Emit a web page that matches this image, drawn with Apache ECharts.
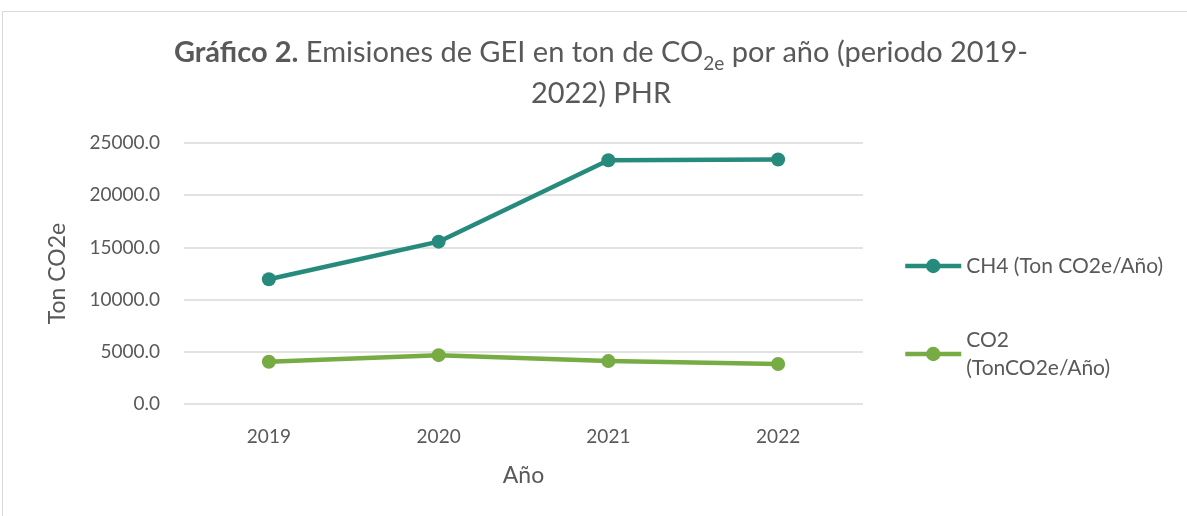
<!DOCTYPE html>
<html><head><meta charset="utf-8">
<script src="https://cdn.jsdelivr.net/npm/echarts@6/dist/echarts.min.js"></script>
<style>html,body{margin:0;padding:0;background:#fff}#c{width:1187px;height:516px}</style>
</head><body><div id="c"></div>
<script>
const categories = ['2019', '2020', '2021', '2022'];
const ch4Values = [11950, 15550, 23350, 23420];
const co2Values = [4040, 4680, 4110, 3830];
const seriesNames = ['CH4 (Ton CO2e/Año)', 'CO2\n(TonCO2e/Año)'];
const yTicks = [0, 5000, 10000, 15000, 20000, 25000];

const FONT = 'Lato, "Open Sans", sans-serif';
const GREY = '#595959';
const chart = echarts.init(document.getElementById('c'));
chart.setOption({
  backgroundColor: '#fff',
  animation: false,
  graphic: [{
    type: 'rect', silent: true,
    shape: { x: 2.5, y: 11.5, width: 1200, height: 520 },
    style: { fill: 'none', stroke: '#d9d9d9', lineWidth: 1 }
  }],
  title: {
    text: '{b|Gráfico 2.} Emisiones de GEI en ton de CO{sub|2e} por año (periodo 2019-\n2022) PHR',
    left: 601, top: 32, textAlign: 'center', padding: 0,
    textStyle: {
      fontFamily: FONT, fontSize: 29, fontWeight: 'normal', color: GREY, lineHeight: 41,
      rich: {
        b: { fontFamily: FONT, fontSize: 29, fontWeight: 'bold', color: GREY, lineHeight: 41 },
        sub: { fontFamily: FONT, fontSize: 19, color: GREY, verticalAlign: 'bottom', lineHeight: 26 }
      }
    }
  },
  grid: { left: 184, right: 324, top: 143, bottom: 112, containLabel: false },
  legend: [{
    orient: 'vertical', left: 903, top: 252, padding: 0,
    itemWidth: 56, itemHeight: 18,
    lineStyle: { width: 4.5 },
    data: [seriesNames[0]],
    textStyle: { fontFamily: FONT, fontSize: 21, color: GREY, lineHeight: 28 }
  }, {
    orient: 'vertical', left: 903, top: 312, padding: 0,
    itemWidth: 56, itemHeight: 18,
    lineStyle: { width: 4.5 },
    data: [seriesNames[1]],
    textStyle: { fontFamily: FONT, fontSize: 21, color: GREY, lineHeight: 28, padding: [28, 0, 0, 0] }
  }],
  xAxis: {
    type: 'category', data: categories, boundaryGap: true,
    name: 'Año', nameLocation: 'middle', nameGap: 60,
    nameTextStyle: { fontFamily: FONT, fontSize: 23, color: GREY },
    axisLine: { show: false }, axisTick: { show: false },
    axisLabel: { fontFamily: FONT, fontSize: 19, color: GREY, margin: 23 }
  },
  yAxis: {
    type: 'value', min: yTicks[0], max: yTicks[yTicks.length - 1], interval: 5000,
    name: 'Ton CO2e', nameLocation: 'middle', nameGap: 115,
    nameTextStyle: { fontFamily: FONT, fontSize: 23, color: GREY },
    axisLine: { show: false }, axisTick: { show: false },
    axisLabel: { fontFamily: FONT, fontSize: 19, color: GREY, margin: 24,
      formatter: v => v.toFixed(1) },
    splitLine: { lineStyle: { color: '#d9d9d9', width: 1.5 } }
  },
  series: [{
    name: seriesNames[0], type: 'line', data: ch4Values,
    symbol: 'circle', symbolSize: 14,
    lineStyle: { color: '#268A7D', width: 4.5 },
    itemStyle: { color: '#268A7D' }
  }, {
    name: seriesNames[1], type: 'line', data: co2Values,
    symbol: 'circle', symbolSize: 14,
    lineStyle: { color: '#77AB43', width: 4.5 },
    itemStyle: { color: '#77AB43' }
  }]
});
</script></body></html>
